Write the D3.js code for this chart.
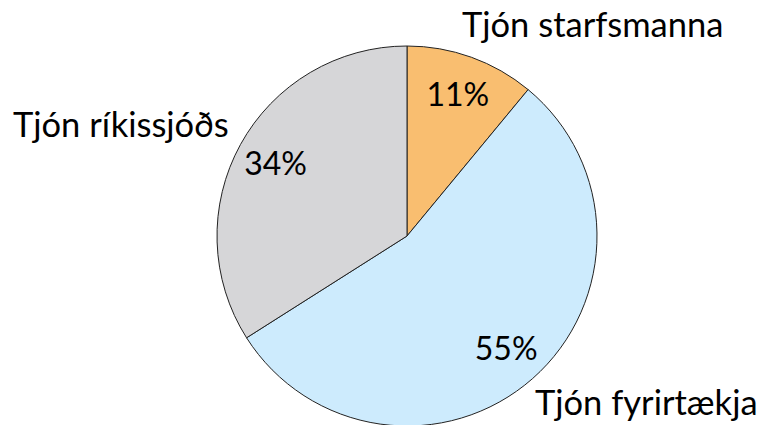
<!DOCTYPE html>
<html>
<head>
<meta charset="utf-8">
<script src="https://cdn.jsdelivr.net/npm/d3@7"></script>
<style>
  body { margin: 0; background: #fff; }
  text { font-family: Lato, "Open Sans", sans-serif; fill: #000; }
</style>
</head>
<body>
<div id="chart"></div>
<script>
// slices, clockwise from 12 o'clock
var categories = ["Tjón starfsmanna", "Tjón fyrirtækja", "Tjón ríkissjóðs"];
var shares = [11, 55, 34];
var colours = ["#f9be70", "#cdebfd", "#d6d6d8"];

var width = 763, height = 425;
var cx = 407, cy = 236, radius = 190;

var svg = d3.select('#chart').append('svg')
    .attr('width', width)
    .attr('height', height);

var g = svg.append('g').attr('transform', 'translate(' + cx + ',' + cy + ')');

var pie = d3.pie().sort(null).value(d => d.value);
var arc = d3.arc().innerRadius(0).outerRadius(radius);
var labelArc = d3.arc().innerRadius(150).outerRadius(150);

var data = categories.map((c, i) => ({ name: c, value: shares[i], colour: colours[i] }));
var arcs = pie(data);

g.selectAll('path.slice')
    .data(arcs)
    .enter().append('path')
    .attr('class', 'slice')
    .attr('d', arc)
    .attr('fill', d => d.data.colour)
    .attr('stroke', '#222')
    .attr('stroke-width', 1);

// percentages inside
g.selectAll('text.pct')
    .data(arcs)
    .enter().append('text')
    .attr('class', 'pct')
    .attr('x', d => labelArc.centroid(d)[0])
    .attr('y', d => labelArc.centroid(d)[1])
    .attr('text-anchor', 'middle')
    .attr('dy', '0.36em')
    .style('font-size', '32px')
    .text(d => d.data.value + '%');

// category names outside (placed like the Excel original)
var namePos = [
    { x: 462, y: 37 },
    { x: 535, y: 415 },
    { x: 13, y: 137 }
];

svg.selectAll('text.name')
    .data(arcs)
    .enter().append('text')
    .attr('class', 'name')
    .attr('x', (d, i) => namePos[i].x)
    .attr('y', (d, i) => namePos[i].y)
    .style('font-size', '34.5px')
    .text(d => d.data.name);
</script>
</body>
</html>
